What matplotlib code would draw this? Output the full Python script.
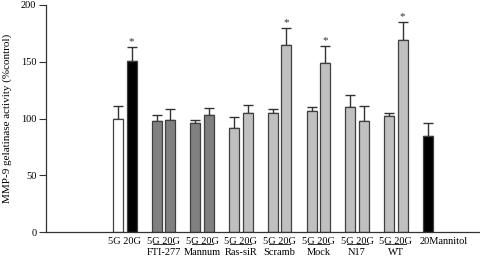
import matplotlib
matplotlib.use("Agg")
import matplotlib.pyplot as plt
from matplotlib.transforms import blended_transform_factory

plt.rcParams['font.family'] = ['Liberation Serif', 'DejaVu Serif']

groups = ["", "FTI-277", "Mannum", "Ras-siR", "Scramb", "Mock", "N17", "WT"]
vals_5g = [100, 98, 96, 92, 105, 107, 110, 102]
err_5g = [11, 5, 3, 9, 3, 3, 11, 3]
vals_20g = [151, 99, 103, 105, 165, 149, 98, 169]
err_20g = [12, 9, 6, 7, 15, 15, 13, 16]
sig_20g = [True, False, False, False, True, True, False, True]
colors_5g = ["white", "#808080", "#808080", "#c0c0c0", "#c0c0c0", "#c0c0c0", "#c0c0c0", "#c0c0c0"]
colors_20g = ["black", "#808080", "#808080", "#c0c0c0", "#c0c0c0", "#c0c0c0", "#c0c0c0", "#c0c0c0"]
mannitol_label = "20Mannitol"
mannitol_val = 85
mannitol_err = 11

fig = plt.figure(figsize=(4.8, 2.56), dpi=100)
ax = fig.add_axes([46/480, 24/256, 1 - 46/480, 227/256])

off = 0.35
w = 0.26
x5 = [i for i in range(len(groups))]
x20 = [i + off for i in range(len(groups))]
xm = len(groups)

edge = "#404040"
ax.bar(x5, vals_5g, width=w, color=colors_5g, edgecolor=edge, linewidth=0.9, zorder=2)
ax.bar(x20, vals_20g, width=w, color=colors_20g, edgecolor=edge, linewidth=0.9, zorder=2)
ax.bar([xm], [mannitol_val], width=w, color="black", edgecolor=edge, linewidth=0.9, zorder=2)

ec = "#333333"
ax.errorbar(x5, vals_5g, yerr=[[0]*len(vals_5g), err_5g], fmt='none', ecolor=ec, elinewidth=1, capsize=3.5, capthick=1, zorder=1)
ax.errorbar(x20, vals_20g, yerr=[[0]*len(vals_20g), err_20g], fmt='none', ecolor=ec, elinewidth=1, capsize=3.5, capthick=1, zorder=1)
ax.errorbar([xm], [mannitol_val], yerr=[[0], [mannitol_err]], fmt='none', ecolor=ec, elinewidth=1, capsize=3.5, capthick=1, zorder=1)

for x, v, e, s in zip(x20, vals_20g, err_20g, sig_20g):
    if s:
        ax.annotate("*", xy=(x, v + e), xytext=(0, 0.5), textcoords='offset points',
                    ha='center', va='bottom', fontsize=8, color='#333333')

ax.set_xlim(-1.86, 9.35)
ax.set_ylim(0, 200)
ax.set_yticks([0, 50, 100, 150, 200])
ax.tick_params(axis='y', labelsize=7.5, length=5, width=0.8, pad=2, direction='out', colors='#333333', labelcolor='black')
ax.set_xticks([])
for sp in ['top', 'right']:
    ax.spines[sp].set_visible(False)
for sp in ['left', 'bottom']:
    ax.spines[sp].set_color('#333333')
    ax.spines[sp].set_linewidth(0.9)
ax.set_ylabel("MMP-9 gelatinase activity (%control)", fontsize=8, labelpad=6)

fs = 7.5
trans = blended_transform_factory(ax.transData, ax.transAxes)
for i, g in enumerate(groups):
    c = i + off / 2
    ax.annotate("5G 20G", xy=(c, 0), xycoords=trans, xytext=(0, -6.5), textcoords='offset points',
                ha='center', va='center', fontsize=fs)
    if g:
        ax.plot([c - 0.27, c + 0.27], [-0.052, -0.052], transform=trans, color='#333333', lw=0.7, clip_on=False)
        ax.annotate(g, xy=(c, 0), xycoords=trans, xytext=(0, -14.5), textcoords='offset points',
                    ha='center', va='center', fontsize=fs)
ax.annotate(mannitol_label, xy=(xm - w / 2 - 0.08, 0), xycoords=trans, xytext=(0, -6.5),
            textcoords='offset points', ha='left', va='center', fontsize=fs)

fig.savefig("out.png", dpi=100)
